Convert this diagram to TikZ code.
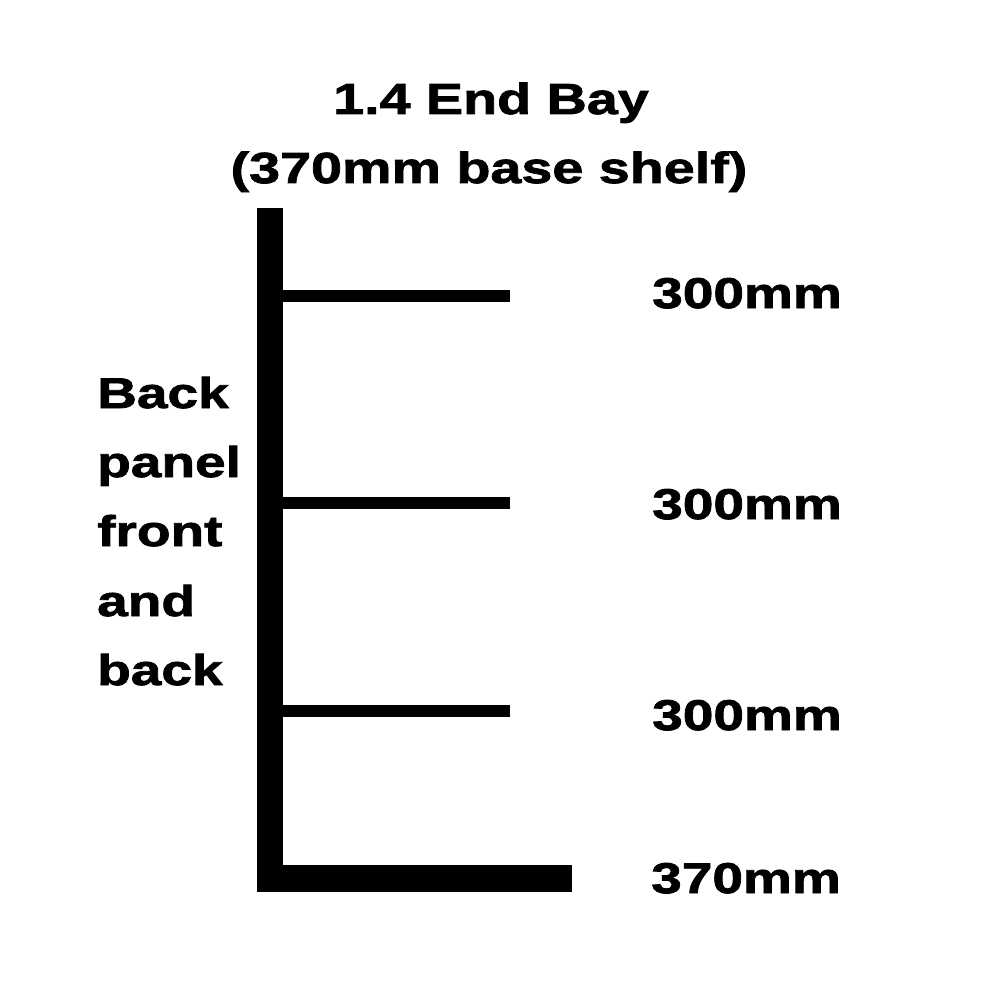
\documentclass[tikz,border=0pt]{standalone}
\usepackage{fontspec}
\newfontfamily\lbl{Liberation Sans Bold}[FakeStretch=1.28,FakeBold=1.8]
\begin{document}
\begin{tikzpicture}[x=1pt,y=-1pt,
  lbltext/.style={inner sep=0pt,anchor=base west,font=\lbl\fontsize{43}{50}\selectfont},
  titletext/.style={inner sep=0pt,anchor=base,font=\lbl\fontsize{43.5}{52}\selectfont},
  shelfline/.style={line width=12pt,line cap=butt}]
\useasboundingbox[fill=white] (0,0) rectangle (1000,1000);
% upright and base shelf
\fill (257,208) rectangle (283,892);
\fill (257,865) rectangle (572,892);
\coordinate (s1a) at (283,296); \coordinate (s1b) at (510,296);
\coordinate (s2a) at (283,503); \coordinate (s2b) at (510,503);
\coordinate (s3a) at (283,711); \coordinate (s3b) at (510,711);
\draw[shelfline] (s1a) -- (s1b);
\draw[shelfline] (s2a) -- (s2b);
\draw[shelfline] (s3a) -- (s3b);
% title
\node[titletext] (t1) at (491,114) {1.4 End Bay};
\node[titletext] (t2) at (489,183) {(370mm base shelf)};
% side labels
\node[lbltext] (l1) at (652,308) {300mm};
\node[lbltext] (l2) at (652,519) {300mm};
\node[lbltext] (l3) at (652,730) {300mm};
\node[lbltext] (l4) at (651,893) {370mm};
% back panel text
\node[lbltext] (b1) at (97,408) {Back};
\node[lbltext] (b2) at (97,477) {panel};
\node[lbltext] (b3) at (97,546) {front};
\node[lbltext] (b4) at (97,616) {and};
\node[lbltext] (b5) at (97,685) {back};
\end{tikzpicture}
\end{document}
